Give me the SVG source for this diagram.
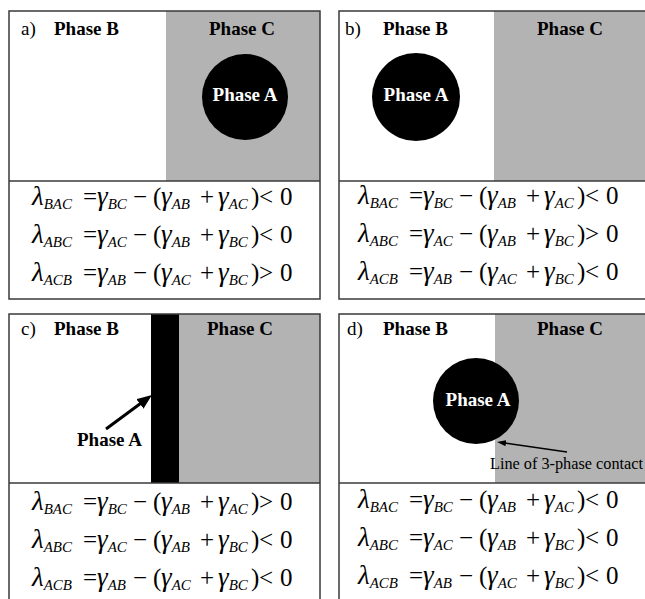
<svg xmlns="http://www.w3.org/2000/svg" width="645" height="599" viewBox="0 0 645 599">
<style>
text{font-family:"Liberation Serif","Times New Roman",serif;fill:#000}
.hd{font-size:19px;font-weight:bold}
.tag{font-size:19px}
.pa{font-size:19px;font-weight:bold;fill:#fff;text-anchor:middle}
.eq{font-size:25px}
.i{font-style:italic;font-size:27px}
.s{font-style:italic;font-size:15px}
.note{font-size:16px}
.frame{fill:none;stroke:#3a3a3a;stroke-width:1.5}
.gray{fill:#b3b3b3}
.div{stroke:#3a3a3a;stroke-width:1.5}
</style>
<defs>
<marker id="headBig" markerUnits="userSpaceOnUse" markerWidth="16" markerHeight="13" refX="2" refY="6" orient="auto"><path d="M0,0 L15,6 L0,12 z" fill="#000"/></marker>
<marker id="headSmall" markerUnits="userSpaceOnUse" markerWidth="10" markerHeight="7" refX="1" refY="3" orient="auto"><path d="M0,0 L9,3 L0,6 z" fill="#000"/></marker>
</defs>
<rect width="645" height="599" fill="#fff"/>

<g id="panel-a">
<rect class="gray" x="166" y="11" width="154" height="170"/>
<circle cx="245" cy="97" r="43" fill="#000"/>
<text class="pa" x="245" y="101">Phase A</text>
<text class="tag" x="21" y="35">a)</text>
<text class="hd" x="54" y="35">Phase B</text>
<text class="hd" x="242" y="35" text-anchor="middle">Phase C</text>
<line class="div" x1="9" y1="181" x2="320" y2="181"/>
<rect class="frame" x="9" y="11" width="311" height="288"/>
<g class="eq">
<text y="205"><tspan class="i" x="32">λ</tspan><tspan class="s" y="209">BAC</tspan><tspan x="83" y="205">=</tspan><tspan class="i" x="97">γ</tspan><tspan class="s" y="209">BC</tspan><tspan x="133" y="205">−</tspan><tspan x="153">(</tspan><tspan class="i" x="161">γ</tspan><tspan class="s" y="209">AB</tspan><tspan x="200" y="205">+</tspan><tspan class="i" x="218">γ</tspan><tspan class="s" y="209">AC</tspan><tspan x="251" y="205">)</tspan><tspan x="259">&lt;</tspan><tspan x="280">0</tspan></text>
<text y="243"><tspan class="i" x="32">λ</tspan><tspan class="s" y="247">ABC</tspan><tspan x="83" y="243">=</tspan><tspan class="i" x="97">γ</tspan><tspan class="s" y="247">AC</tspan><tspan x="133" y="243">−</tspan><tspan x="153">(</tspan><tspan class="i" x="161">γ</tspan><tspan class="s" y="247">AB</tspan><tspan x="200" y="243">+</tspan><tspan class="i" x="218">γ</tspan><tspan class="s" y="247">BC</tspan><tspan x="251" y="243">)</tspan><tspan x="259">&lt;</tspan><tspan x="280">0</tspan></text>
<text y="281"><tspan class="i" x="32">λ</tspan><tspan class="s" y="285">ACB</tspan><tspan x="83" y="281">=</tspan><tspan class="i" x="97">γ</tspan><tspan class="s" y="285">AB</tspan><tspan x="133" y="281">−</tspan><tspan x="153">(</tspan><tspan class="i" x="161">γ</tspan><tspan class="s" y="285">AC</tspan><tspan x="200" y="281">+</tspan><tspan class="i" x="218">γ</tspan><tspan class="s" y="285">BC</tspan><tspan x="251" y="281">)</tspan><tspan x="259">&gt;</tspan><tspan x="280">0</tspan></text>
</g>
</g>

<g id="panel-b">
<rect class="gray" x="494" y="11" width="152" height="170"/>
<circle cx="416" cy="97" r="44" fill="#000"/>
<text class="pa" x="416" y="101">Phase A</text>
<text class="tag" x="345" y="35">b)</text>
<text class="hd" x="383" y="35">Phase B</text>
<text class="hd" x="570" y="35" text-anchor="middle">Phase C</text>
<line class="div" x1="339" y1="181" x2="646" y2="181"/>
<rect class="frame" x="339" y="11" width="308" height="288"/>
<g class="eq" transform="translate(326,-1)">
<text y="205"><tspan class="i" x="32">λ</tspan><tspan class="s" y="209">BAC</tspan><tspan x="83" y="205">=</tspan><tspan class="i" x="97">γ</tspan><tspan class="s" y="209">BC</tspan><tspan x="133" y="205">−</tspan><tspan x="153">(</tspan><tspan class="i" x="161">γ</tspan><tspan class="s" y="209">AB</tspan><tspan x="200" y="205">+</tspan><tspan class="i" x="218">γ</tspan><tspan class="s" y="209">AC</tspan><tspan x="251" y="205">)</tspan><tspan x="259">&lt;</tspan><tspan x="280">0</tspan></text>
<text y="243"><tspan class="i" x="32">λ</tspan><tspan class="s" y="247">ABC</tspan><tspan x="83" y="243">=</tspan><tspan class="i" x="97">γ</tspan><tspan class="s" y="247">AC</tspan><tspan x="133" y="243">−</tspan><tspan x="153">(</tspan><tspan class="i" x="161">γ</tspan><tspan class="s" y="247">AB</tspan><tspan x="200" y="243">+</tspan><tspan class="i" x="218">γ</tspan><tspan class="s" y="247">BC</tspan><tspan x="251" y="243">)</tspan><tspan x="259">&gt;</tspan><tspan x="280">0</tspan></text>
<text y="281"><tspan class="i" x="32">λ</tspan><tspan class="s" y="285">ACB</tspan><tspan x="83" y="281">=</tspan><tspan class="i" x="97">γ</tspan><tspan class="s" y="285">AB</tspan><tspan x="133" y="281">−</tspan><tspan x="153">(</tspan><tspan class="i" x="161">γ</tspan><tspan class="s" y="285">AC</tspan><tspan x="200" y="281">+</tspan><tspan class="i" x="218">γ</tspan><tspan class="s" y="285">BC</tspan><tspan x="251" y="281">)</tspan><tspan x="259">&lt;</tspan><tspan x="280">0</tspan></text>
</g>
</g>

<g id="panel-c">
<rect class="gray" x="179" y="314" width="141" height="169"/>
<rect x="151" y="314" width="28" height="169" fill="#000"/>
<text class="tag" x="21" y="335">c)</text>
<text class="hd" x="54" y="335">Phase B</text>
<text class="hd" x="240" y="335" text-anchor="middle">Phase C</text>
<text class="hd" x="77" y="446">Phase A</text>
<line class="div" x1="9" y1="483" x2="320" y2="483"/>
<rect class="frame" x="9" y="314" width="311" height="295"/>
<g class="eq" transform="translate(0,305)">
<text y="205"><tspan class="i" x="32">λ</tspan><tspan class="s" y="209">BAC</tspan><tspan x="83" y="205">=</tspan><tspan class="i" x="97">γ</tspan><tspan class="s" y="209">BC</tspan><tspan x="133" y="205">−</tspan><tspan x="153">(</tspan><tspan class="i" x="161">γ</tspan><tspan class="s" y="209">AB</tspan><tspan x="200" y="205">+</tspan><tspan class="i" x="218">γ</tspan><tspan class="s" y="209">AC</tspan><tspan x="251" y="205">)</tspan><tspan x="259">&gt;</tspan><tspan x="280">0</tspan></text>
<text y="243"><tspan class="i" x="32">λ</tspan><tspan class="s" y="247">ABC</tspan><tspan x="83" y="243">=</tspan><tspan class="i" x="97">γ</tspan><tspan class="s" y="247">AC</tspan><tspan x="133" y="243">−</tspan><tspan x="153">(</tspan><tspan class="i" x="161">γ</tspan><tspan class="s" y="247">AB</tspan><tspan x="200" y="243">+</tspan><tspan class="i" x="218">γ</tspan><tspan class="s" y="247">BC</tspan><tspan x="251" y="243">)</tspan><tspan x="259">&lt;</tspan><tspan x="280">0</tspan></text>
<text y="281"><tspan class="i" x="32">λ</tspan><tspan class="s" y="285">ACB</tspan><tspan x="83" y="281">=</tspan><tspan class="i" x="97">γ</tspan><tspan class="s" y="285">AB</tspan><tspan x="133" y="281">−</tspan><tspan x="153">(</tspan><tspan class="i" x="161">γ</tspan><tspan class="s" y="285">AC</tspan><tspan x="200" y="281">+</tspan><tspan class="i" x="218">γ</tspan><tspan class="s" y="285">BC</tspan><tspan x="251" y="281">)</tspan><tspan x="259">&lt;</tspan><tspan x="280">0</tspan></text>
</g>
</g>

<g id="panel-d">
<rect class="gray" x="495" y="314" width="151" height="169"/>
<circle cx="476" cy="401" r="43" fill="#000"/>
<text class="pa" x="478" y="406">Phase A</text>
<text class="tag" x="347" y="335">d)</text>
<text class="hd" x="383" y="335">Phase B</text>
<text class="hd" x="570" y="335" text-anchor="middle">Phase C</text>
<text class="note" x="490" y="469" textLength="153" lengthAdjust="spacingAndGlyphs">Line of 3-phase contact</text>
<line class="div" x1="339" y1="483" x2="646" y2="483"/>
<rect class="frame" x="339" y="314" width="308" height="295"/>
<g class="eq" transform="translate(326,303)">
<text y="205"><tspan class="i" x="32">λ</tspan><tspan class="s" y="209">BAC</tspan><tspan x="83" y="205">=</tspan><tspan class="i" x="97">γ</tspan><tspan class="s" y="209">BC</tspan><tspan x="133" y="205">−</tspan><tspan x="153">(</tspan><tspan class="i" x="161">γ</tspan><tspan class="s" y="209">AB</tspan><tspan x="200" y="205">+</tspan><tspan class="i" x="218">γ</tspan><tspan class="s" y="209">AC</tspan><tspan x="251" y="205">)</tspan><tspan x="259">&lt;</tspan><tspan x="280">0</tspan></text>
<text y="243"><tspan class="i" x="32">λ</tspan><tspan class="s" y="247">ABC</tspan><tspan x="83" y="243">=</tspan><tspan class="i" x="97">γ</tspan><tspan class="s" y="247">AC</tspan><tspan x="133" y="243">−</tspan><tspan x="153">(</tspan><tspan class="i" x="161">γ</tspan><tspan class="s" y="247">AB</tspan><tspan x="200" y="243">+</tspan><tspan class="i" x="218">γ</tspan><tspan class="s" y="247">BC</tspan><tspan x="251" y="243">)</tspan><tspan x="259">&lt;</tspan><tspan x="280">0</tspan></text>
<text y="281"><tspan class="i" x="32">λ</tspan><tspan class="s" y="285">ACB</tspan><tspan x="83" y="281">=</tspan><tspan class="i" x="97">γ</tspan><tspan class="s" y="285">AB</tspan><tspan x="133" y="281">−</tspan><tspan x="153">(</tspan><tspan class="i" x="161">γ</tspan><tspan class="s" y="285">AC</tspan><tspan x="200" y="281">+</tspan><tspan class="i" x="218">γ</tspan><tspan class="s" y="285">BC</tspan><tspan x="251" y="281">)</tspan><tspan x="259">&lt;</tspan><tspan x="280">0</tspan></text>
</g>
</g>

<g id="connectors">
<line x1="106" y1="429" x2="141.5" y2="402.7" stroke="#000" stroke-width="3" marker-end="url(#headBig)"/>
<line x1="567" y1="452" x2="504.9" y2="443.1" stroke="#000" stroke-width="1.5" marker-end="url(#headSmall)"/>
</g>
</svg>
